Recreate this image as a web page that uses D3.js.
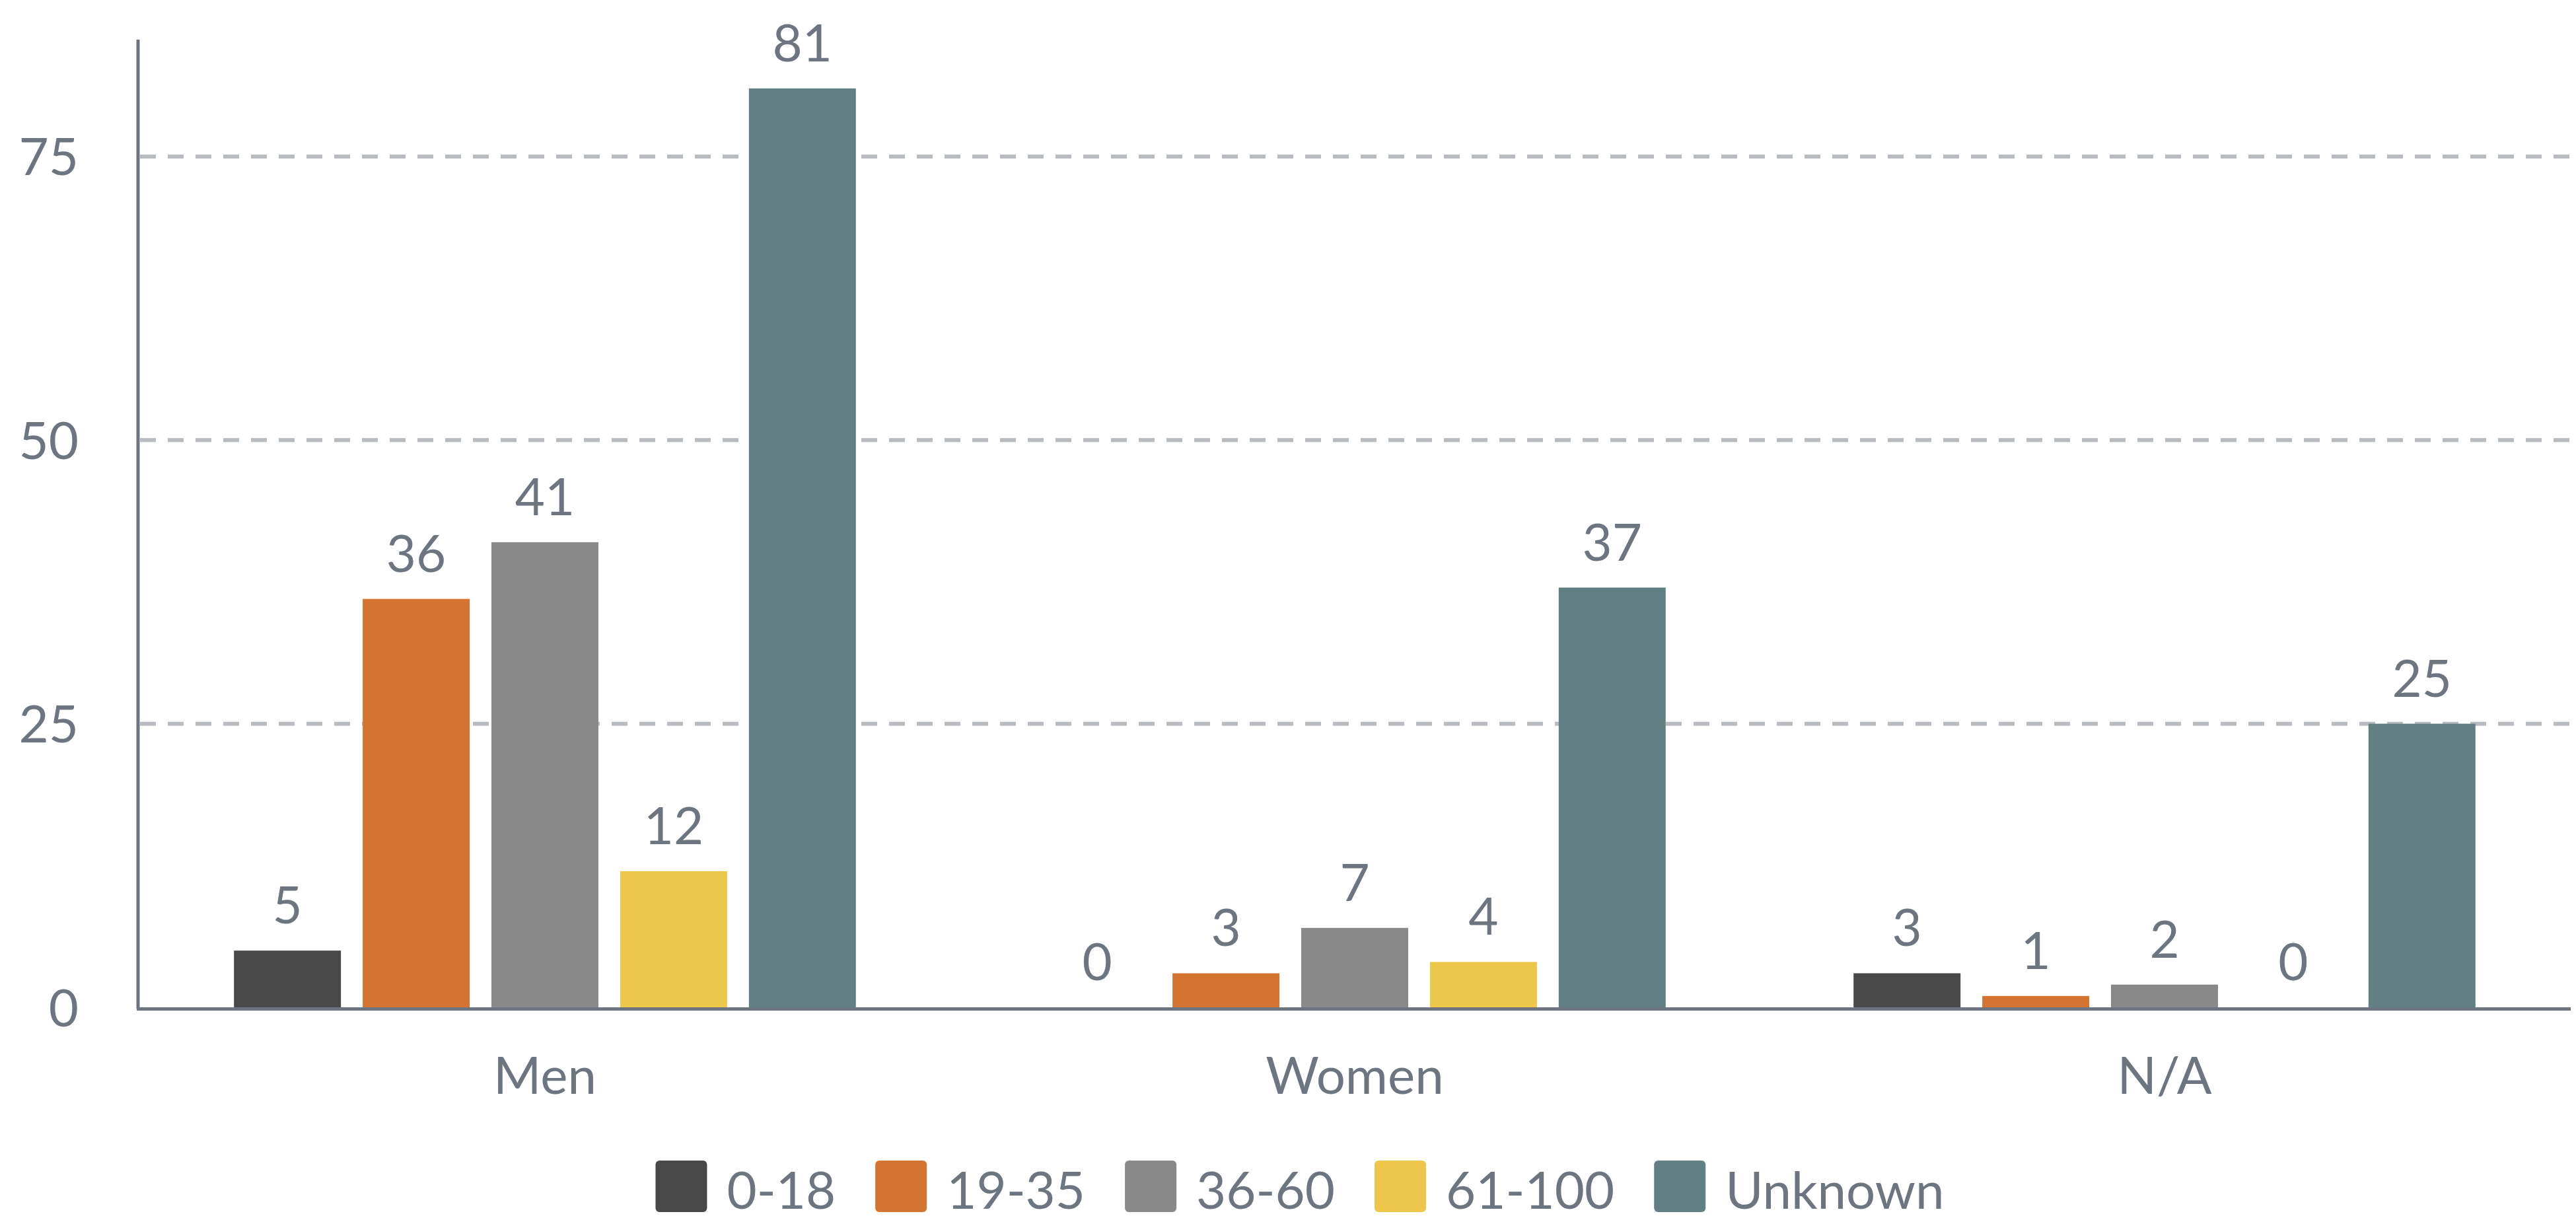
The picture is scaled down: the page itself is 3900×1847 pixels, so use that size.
<!DOCTYPE html>
<html lang="en">
<head>
    <meta charset="UTF-8">
    <title>Grouped bars</title>
    <script src="https://cdnjs.cloudflare.com/ajax/libs/d3/7.8.5/d3.min.js"></script>
    <style>
        body { margin: 0; background: #fff; }
        text { font-family: Lato, "Open Sans", sans-serif; fill: #6c7580; }
    </style>
</head>
<body>
<div id="chart"></div>
<script>
    const groups = ['Men', 'Women', 'N/A'];
    const ageBands = ['0-18', '19-35', '36-60', '61-100', 'Unknown'];
    const bandColors = ['#484848', '#d37433', '#898989', '#edc74b', '#628084'];
    // one array per age band, in the order of groups
    const v0_18 = [5, 0, 3];
    const v19_35 = [36, 3, 1];
    const v36_60 = [41, 7, 2];
    const v61_100 = [12, 4, 0];
    const vUnknown = [81, 37, 25];
    const yTicks = [0, 25, 50, 75];

    const series = [v0_18, v19_35, v36_60, v61_100, vUnknown];

    const width = 3900, height = 1847;
    const plotLeft = 212, plotRight = 3890, plotTop = 60, plotBottom = 1525;
    const axisColor = '#6c7580';
    const fontSize = 78;

    const svg = d3.select('#chart').append('svg')
        .attr('width', width).attr('height', height);

    const x0 = d3.scaleBand().domain(groups).range([plotLeft, plotRight])
        .paddingInner(0.232).paddingOuter(0.116);
    const x1 = d3.scaleBand().domain(ageBands).range([0, x0.bandwidth()])
        .paddingInner(0.169);
    const y = d3.scaleLinear().domain([0, 85.3]).range([plotBottom, plotTop]);
    const color = d3.scaleOrdinal().domain(ageBands).range(bandColors);

    // gridlines
    svg.append('g').selectAll('line')
        .data(yTicks.filter(t => t > 0)).enter().append('line')
        .attr('x1', plotLeft).attr('x2', 3892)
        .attr('y1', d => y(d)).attr('y2', d => y(d))
        .attr('stroke', '#b8bbc0').attr('stroke-width', 6)
        .attr('stroke-dasharray', '24 18');

    // y labels
    const yAxis = d3.axisLeft(y).tickValues(yTicks).tickSize(0).tickPadding(0);
    svg.append('g').attr('transform', 'translate(119,0)').call(yAxis)
        .call(g => g.select('.domain').remove())
        .selectAll('text')
        .attr('font-size', fontSize).attr('font-family', 'Lato').attr('fill', axisColor)
        .attr('dy', '0.36em');

    const data = [];
    groups.forEach((g, gi) => ageBands.forEach((b, bi) => data.push({g, b, v: series[bi][gi]})));

    svg.append('g').selectAll('rect').data(data).enter().append('rect')
        .attr('x', d => x0(d.g) + x1(d.b))
        .attr('width', x1.bandwidth())
        .attr('y', d => y(d.v))
        .attr('height', d => plotBottom - y(d.v))
        .attr('fill', d => color(d.b));

    svg.append('g').selectAll('text').data(data).enter().append('text')
        .attr('x', d => x0(d.g) + x1(d.b) + x1.bandwidth() / 2)
        .attr('y', d => y(d.v) - 41)
        .attr('text-anchor', 'middle')
        .attr('font-size', fontSize)
        .text(d => d.v);

    // axes lines
    svg.append('line').attr('x1', 209).attr('x2', 209).attr('y1', plotTop).attr('y2', plotBottom + 2)
        .attr('stroke', axisColor).attr('stroke-width', 5);
    svg.append('line').attr('x1', 207).attr('x2', 3892).attr('y1', plotBottom + 2.5).attr('y2', plotBottom + 2.5)
        .attr('stroke', axisColor).attr('stroke-width', 5);

    // category labels
    const xAxis = d3.axisBottom(x0).tickSize(0).tickPadding(0);
    svg.append('g').attr('transform', 'translate(0,1656)').call(xAxis)
        .call(g => g.select('.domain').remove())
        .selectAll('text')
        .attr('font-size', fontSize).attr('font-family', 'Lato').attr('fill', axisColor)
        .attr('dy', 0).attr('y', 0);

    // legend
    const legend = svg.append('g');
    let lx = 0;
    const legendGap = 60;
    ageBands.forEach((b, i) => {
        const item = legend.append('g').attr('transform', `translate(${lx},0)`);
        item.append('rect').attr('x', 0).attr('y', 1757).attr('width', 78).attr('height', 78)
            .attr('rx', 6).attr('fill', bandColors[i]);
        const t = item.append('text').attr('x', 108).attr('y', 1830)
            .attr('font-size', fontSize).text(b);
        lx += 108 + t.node().getComputedTextLength() + legendGap;
    });
    const legendW = lx - legendGap;
    legend.attr('transform', `translate(${1968 - legendW / 2},0)`);
</script>
</body>
</html>
